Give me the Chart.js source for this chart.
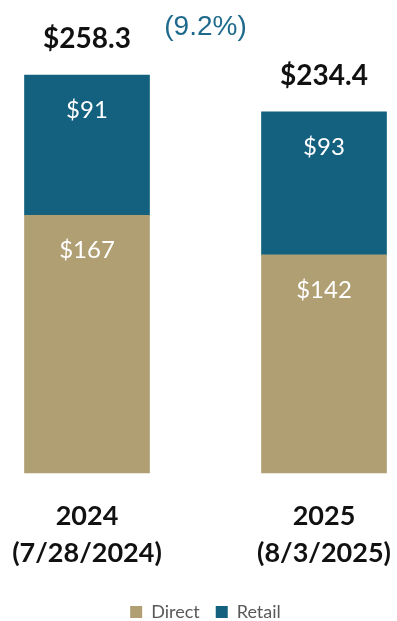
<!DOCTYPE html>
<html>
<head>
<meta charset="utf-8">
<script src="https://cdn.jsdelivr.net/npm/chart.js@4/dist/chart.umd.min.js"></script>
<style>
  html, body { margin: 0; padding: 0; background: #fff; overflow: hidden; }
  #wrap { width: 397px; height: 621px; position: relative; }
</style>
</head>
<body>
<div id="wrap"><canvas id="c"></canvas></div>
<script>
// Net sales by channel, $ millions
const periods = [['2024', '(7/28/2024)'], ['2025', '(8/3/2025)']];
const direct = [167.3, 141.6];
const retail = [91.0, 92.8];
const totals = [258.3, 234.4];
const changeLabel = '(9.2%)';

const TAN = '#AF9F73';
const TEAL = '#13617F';

const labelPlugin = {
  id: 'valueLabels',
  afterDatasetsDraw(chart) {
    const ctx = chart.ctx;
    const y = chart.scales.y;
    ctx.save();
    ctx.textAlign = 'center';
    ctx.textBaseline = 'middle';

    // segment values, placed just inside the top of each segment
    ctx.font = '24px Lato';
    ctx.fillStyle = '#ffffff';
    chart.data.datasets.forEach((ds, di) => {
      const meta = chart.getDatasetMeta(di);
      meta.data.forEach((bar, i) => {
        ctx.fillText('$' + Math.round(ds.data[i]), bar.x, bar.y + 35);
      });
    });

    // stack totals above each bar
    ctx.font = 'bold 28px Lato';
    ctx.fillStyle = '#111111';
    const topMeta = chart.getDatasetMeta(1);
    topMeta.data.forEach((bar, i) => {
      ctx.fillText('$' + totals[i].toFixed(1), bar.x, y.getPixelForValue(totals[i]) - 36);
    });

    // year-over-year change between the two totals
    const a = topMeta.data[0], b = topMeta.data[1];
    ctx.font = '28px "Liberation Sans"';
    ctx.fillStyle = '#1F6A8C';
    ctx.fillText(changeLabel, (a.x + b.x) / 2, y.getPixelForValue(Math.max(...totals)) - 48);
    ctx.restore();
  }
};

new Chart(document.getElementById('c'), {
  type: 'bar',
  data: {
    labels: periods,
    datasets: [
      { label: 'Direct', data: direct, backgroundColor: TAN, barThickness: 125, clip: false },
      { label: 'Retail', data: retail, backgroundColor: TEAL, barThickness: 125, clip: false }
    ]
  },
  options: {
    responsive: true,
    maintainAspectRatio: false,
    animation: false,
    layout: { padding: { left: 87, right: 73, top: 0, bottom: -10 } },
    scales: {
      x: {
        stacked: true,
        offset: false,
        grid: { display: false },
        border: { display: false },
        ticks: {
          color: '#111111',
          font: { family: 'Lato', size: 27, weight: 'bold', lineHeight: 1.37 },
          padding: 17,
          maxRotation: 0,
          autoSkip: false
        },
        afterFit(scale) {
          scale.height = 114;
          scale.paddingLeft = 0;
          scale.paddingRight = 0;
        }
      },
      y: {
        stacked: true,
        display: false,
        min: 0,
        max: 307
      }
    },
    plugins: {
      legend: {
        position: 'bottom',
        labels: {
          boxWidth: 12,
          boxHeight: 12,
          color: '#595959',
          font: { family: 'Lato', size: 18 },
          padding: 16
        }
      },
      tooltip: { enabled: false }
    }
  },
  plugins: [labelPlugin]
});
</script>
</body>
</html>
